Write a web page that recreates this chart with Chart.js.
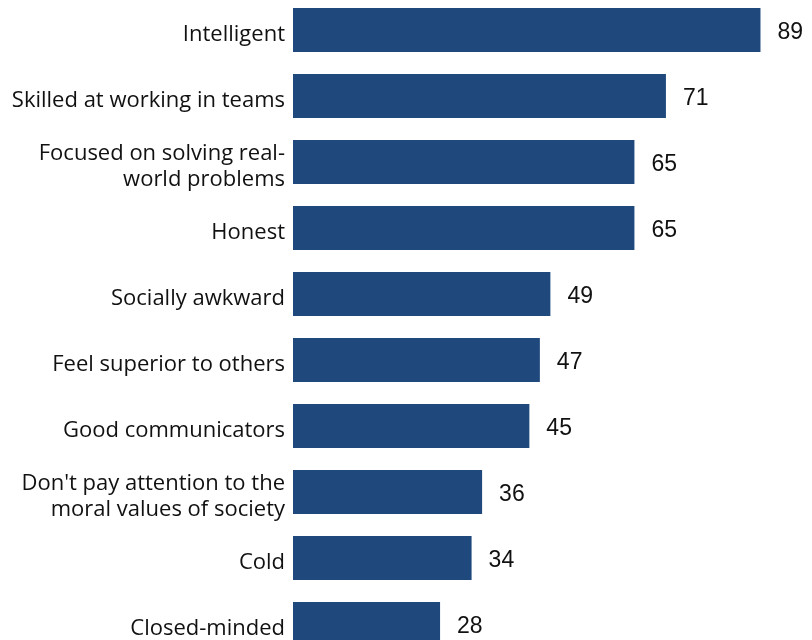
<!DOCTYPE html>
<html>
<head>
<meta charset="utf-8">
<script src="https://cdn.jsdelivr.net/npm/chart.js@4"></script>
<style>
  html, body { margin: 0; padding: 0; background: #fff; overflow: hidden; }
  #wrap { position: relative; width: 812px; height: 640px; overflow: hidden; }
  #traits { position: absolute; left: 0; top: -3px; }
</style>
</head>
<body>
<div id="wrap"><canvas id="traits" width="812" height="660"></canvas></div>
<script>
"use strict";

// traits people associate with scientists, % saying each describes them
const traits = [
    "Intelligent",
    "Skilled at working in teams",
    ["Focused on solving real-", "world problems"],
    "Honest",
    "Socially awkward",
    "Feel superior to others",
    "Good communicators",
    ["Don't pay attention to the", "moral values of society"],
    "Cold",
    "Closed-minded"
];
const shares = [89, 71, 65, 65, 49, 47, 45, 36, 34, 28];

const barColor = "#1f497d";

// number written just past the end of each bar
const valueLabels = {
    id: "valueLabels",
    afterDatasetsDraw(chart) {
        const ctx = chart.ctx;
        const meta = chart.getDatasetMeta(0);
        ctx.save();
        ctx.font = "23px 'Liberation Sans', Arial, sans-serif";
        ctx.fillStyle = "#111";
        ctx.textAlign = "left";
        ctx.textBaseline = "middle";
        meta.data.forEach((bar, i) => {
            ctx.fillText(String(shares[i]), bar.x + 17, bar.y + 3);
        });
        ctx.restore();
    }
};

const config = {
    type: "bar",
    data: {
        labels: traits,
        datasets: [{
            data: shares,
            backgroundColor: barColor,
            borderWidth: 0,
            barPercentage: 0.67,
            categoryPercentage: 1
        }]
    },
    options: {
        indexAxis: "y",
        responsive: false,
        animation: false,
        layout: { padding: { top: 0, bottom: 0, left: 0, right: 20 } },
        plugins: {
            legend: { display: false },
            tooltip: { enabled: false }
        },
        scales: {
            x: {
                display: false,
                min: 0,
                max: 95
            },
            y: {
                grid: { display: false, drawTicks: false },
                border: { display: false },
                afterFit(scale) {
                    // fixed label column, no extra room above/below the bars
                    scale.width = 293;
                    scale.paddingTop = 0;
                    scale.paddingBottom = 0;
                },
                ticks: {
                    padding: 8,
                    labelOffset: 5,
                    color: "#111",
                    font: { family: "'Open Sans', 'Liberation Sans', sans-serif", size: 22, lineHeight: 1.2 }
                }
            }
        }
    },
    plugins: [valueLabels]
};

new Chart(document.getElementById("traits"), config);
</script>
</body>
</html>
